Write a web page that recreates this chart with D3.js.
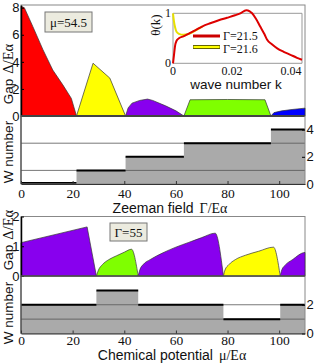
<!DOCTYPE html>
<html>
<head>
<meta charset="utf-8">
<script src="https://cdn.jsdelivr.net/npm/d3@7"></script>
<style>
body { margin: 0; background: #fff; }
svg { display: block; }
.sans { font-family: "Liberation Sans", Arial, sans-serif; }
.serif { font-family: "Liberation Serif", "Times New Roman", serif; }
</style>
</head>
<body>
<svg id="chart" width="316" height="364"></svg>
<script>
// ---- data ----
const fieldTicks = [0, 20, 40, 60, 80, 100];
const gapTicksTop = [0, 2, 4, 6, 8];
const gapTicksBottom = [0, 1, 2];
const wTicksTop = [0, 2, 4];
const wTicksBottom = [0, 2];
const kTicks = [0, 0.02, 0.04];
const thetaTicks = [0, 1];

// top: gap vs Zeeman field (mu = 54.5), [Gamma, gap]
const zeemanRed    = [[0, 8.1], [1.3, 8.0], [4.6, 6.6], [8.5, 4.9], [12.3, 3.4], [16.2, 2.3], [19.5, 1.3], [21.5, 0]];
const zeemanYellow = [[21.5, 0], [27.9, 3.9], [34.4, 2.8], [40.5, 0]];
const zeemanPurple = [[40.5, 0], [41.5, 0.6], [43, 0.95], [46, 1.15], [49, 1.25], [51, 1.15], [56, 0.75], [60, 0.38], [63.1, 0]];
const zeemanGreen  = [[63.1, 0], [65.5, 1.2], [80, 1.22], [94.5, 1.2], [96.8, 0]];
const zeemanBlue   = [[96.8, 0], [98, 0.25], [101, 0.38], [105, 0.48], [110, 0.58], [110, 0]];
const zeemanW      = [[0, 0], [21.5, 1], [40.5, 2], [63.1, 3], [96.8, 4]];

// bottom: gap vs chemical potential (Gamma = 55), [mu, gap]
const chemPurple1 = [[0, 1.12], [25.6, 1.65], [29.2, 0]];
const chemGreen   = [[29.2, 0], [30, 0.2], [31.5, 0.38], [34, 0.55], [37, 0.68], [40, 0.8], [42.8, 0.9], [45.4, 0]];
const chemPurple2 = [[45.4, 0], [46, 0.2], [47.5, 0.4], [50, 0.55], [55, 0.78], [60, 0.97], [65, 1.13], [70, 1.29], [75.2, 1.44], [78.4, 0]];
const chemYellow  = [[78.4, 0], [79, 0.2], [80.5, 0.38], [83, 0.55], [87, 0.7], [92, 0.83], [97.8, 0.97], [100.4, 0]];
const chemPurple3 = [[100.4, 0], [101, 0.2], [102.5, 0.38], [105, 0.54], [110, 0.79], [110, 0]];
const chemW       = [[0, 2], [29.2, 3], [45.4, 2], [78.4, 1], [100.4, 2]];

// inset: theta(k)
const thetaRed = [[0, 0], [0.0003, 0.15], [0.0007, 0.35], [0.0012, 0.45], [0.002, 0.5], [0.0035, 0.54], [0.0055, 0.6],
  [0.0075, 0.66], [0.01, 0.74], [0.0126, 0.8], [0.0155, 0.86], [0.0183, 0.91], [0.021, 0.96], [0.0228, 1.0],
  [0.0248, 1.06], [0.026, 1.04], [0.0268, 1.0], [0.028, 0.9], [0.0296, 0.73], [0.031, 0.58], [0.0319, 0.47],
  [0.0335, 0.38], [0.0353, 0.3], [0.0375, 0.23], [0.0398, 0.17], [0.042, 0.11], [0.0437, 0.07]];
const thetaYellow = [[0, 1.0], [0.0003, 0.85], [0.0007, 0.72], [0.0012, 0.63], [0.002, 0.59], [0.0035, 0.57],
  [0.005, 0.58], [0.0065, 0.62], [0.008, 0.67], [0.01, 0.74]];

const XMAX = 110;
const svg = d3.select('#chart');
const intFmt = d3.format('d');

// ---- scales ----
const x = d3.scaleLinear().domain([0, XMAX]).range([21, 305]);
const yGapTop = d3.scaleLinear().domain([0, 8.2]).range([116, 5]);
const yWTop = d3.scaleLinear().domain([0, 5]).range([184, 116]);
const yGapBot = d3.scaleLinear().domain([0, 2]).range([276, 216.5]);
const yWBot = d3.scaleLinear().domain([0, 4]).range([333.5, 276]);
const xK = d3.scaleLinear().domain([0, 0.0437]).range([173, 302]);
const yTh = d3.scaleLinear().domain([0, 1]).range([63.3, 13.3]);

function gapArea(g, data, yScale, color, curve) {
    const area = d3.area()
        .x(d => x(d[0]))
        .y0(yScale(0))
        .y1(d => yScale(d[1]))
        .curve(curve || d3.curveLinear);
    g.append('path')
        .datum(data)
        .attr('d', area)
        .attr('fill', color)
        .attr('stroke', '#333')
        .attr('stroke-width', 0.7);
}

function wPanel(g, steps, yScale, grid) {
    const pts = steps.concat([[XMAX, steps[steps.length - 1][1]]]);
    g.append('path')
        .datum(pts)
        .attr('d', d3.area().x(d => x(d[0])).y0(yScale(0)).y1(d => yScale(d[1])).curve(d3.curveStepAfter))
        .attr('fill', '#aaaaaa');
    grid.forEach(v => {
        g.append('line')
            .attr('x1', x(0)).attr('x2', x(XMAX))
            .attr('y1', yScale(v)).attr('y2', yScale(v))
            .attr('stroke', '#555').attr('stroke-width', 0.8);
    });
    steps.forEach((s, i) => {
        const end = i < steps.length - 1 ? steps[i + 1][0] : XMAX;
        const yy = yScale(s[1]) - (s[1] === 0 ? 1 : 0);
        g.append('line')
            .attr('x1', x(s[0])).attr('x2', x(end))
            .attr('y1', yy).attr('y2', yy)
            .attr('stroke', '#000').attr('stroke-width', 2);
    });
}

function frame(g, y0, y1) {
    g.append('rect')
        .attr('x', x(0)).attr('y', y0)
        .attr('width', x(XMAX) - x(0)).attr('height', y1 - y0)
        .attr('fill', 'none').attr('stroke', '#888').attr('stroke-width', 1);
}

function xAxis(g, yPos, pad) {
    const ax = g.append('g')
        .attr('transform', `translate(0,${yPos})`)
        .call(d3.axisBottom(x).tickValues(fieldTicks).tickFormat(intFmt)
            .tickSize(-3).tickSizeOuter(0).tickPadding(pad));
    ax.select('.domain').attr('stroke', '#333');
    ax.selectAll('.tick line').attr('stroke', '#333');
    ax.selectAll('text').attr('class', 'serif').attr('font-size', 13.5).attr('fill', '#111');
}

function leftAxis(g, yScale, ticks) {
    const ax = g.append('g')
        .attr('transform', `translate(${x(0)},0)`)
        .call(d3.axisLeft(yScale).tickValues(ticks).tickFormat(intFmt)
            .tickSize(-3).tickSizeOuter(0).tickPadding(1.5));
    ax.select('.domain').attr('stroke', '#000').attr('stroke-width', 1.5);
    ax.selectAll('.tick line').attr('stroke', '#000');
    ax.selectAll('text').attr('class', 'sans').attr('font-size', 13).attr('fill', '#111');
}

function rightAxis(g, yScale, ticks) {
    const ax = g.append('g')
        .attr('transform', `translate(${x(XMAX)},0)`)
        .call(d3.axisRight(yScale).tickValues(ticks).tickFormat(intFmt)
            .tickSize(-3).tickSizeOuter(0).tickPadding(1.5));
    ax.select('.domain').remove();
    ax.selectAll('.tick line').attr('stroke', '#000');
    ax.selectAll('text').attr('class', 'sans').attr('font-size', 13).attr('fill', '#111');
}

function yLabel(g, cx, cy, first, second) {
    const t = g.append('text')
        .attr('transform', `translate(${cx},${cy}) rotate(-90)`)
        .attr('text-anchor', 'middle')
        .attr('font-size', 13.5)
        .attr('fill', '#111');
    t.append('tspan').attr('class', 'sans').text(first);
    if (second) t.append('tspan').attr('class', 'serif').attr('dx', 5).attr('font-size', 14.5).text(second);
}

function infoBox(g, x0, y0, w, h, label) {
    g.append('rect')
        .attr('x', x0).attr('y', y0).attr('width', w).attr('height', h)
        .attr('fill', '#ecebdf').attr('stroke', '#777').attr('stroke-width', 1);
    g.append('text')
        .attr('class', 'serif')
        .attr('x', x0 + w / 2).attr('y', y0 + h / 2 + 4.5)
        .attr('text-anchor', 'middle').attr('font-size', 13).attr('fill', '#111')
        .text(label);
}

// ---- top panel: gap vs Zeeman field ----
const gTop = svg.append('g');
frame(gTop, 5, 116);
gapArea(gTop, zeemanRed, yGapTop, '#ff0000');
gapArea(gTop, zeemanYellow, yGapTop, '#ffff00');
gapArea(gTop, zeemanPurple, yGapTop, '#8800ee');
gapArea(gTop, zeemanGreen, yGapTop, '#7fff00');
gapArea(gTop, zeemanBlue, yGapTop, '#0000ff');
gTop.append('line').attr('x1', x(0)).attr('x2', x(XMAX)).attr('y1', 116).attr('y2', 116)
    .attr('stroke', '#000').attr('stroke-width', 2);
leftAxis(gTop, yGapTop, gapTicksTop);
infoBox(gTop, 45, 12, 47, 20, 'μ=54.5');
yLabel(gTop, 12.5, 74, 'Gap', 'Δ/Eα');

// inset
const inset = svg.append('g');
[[0, 0.0437, 1, 1], [0, 0.0437, 0, 0], [0, 0, 0, 1], [0.0437, 0.0437, 0, 1]].forEach(s => {
    inset.append('line')
        .attr('x1', xK(s[0])).attr('x2', xK(s[1])).attr('y1', yTh(s[2])).attr('y2', yTh(s[3]))
        .attr('stroke', '#999');
});
const thLine = d3.line().x(d => xK(d[0])).y(d => yTh(d[1])).curve(d3.curveMonotoneX);
inset.append('path').datum(thetaYellow).attr('d', thLine)
    .attr('fill', 'none').attr('stroke', '#e8e000').attr('stroke-width', 2);
inset.append('path').datum(thetaRed).attr('d', thLine)
    .attr('fill', 'none').attr('stroke', '#dd0000').attr('stroke-width', 2);
kTicks.forEach(k => {
    inset.append('text').attr('class', 'serif').attr('x', xK(k)).attr('y', 74.5)
        .attr('text-anchor', 'middle').attr('font-size', 12).attr('fill', '#111')
        .text(k === 0 ? '0' : k.toFixed(2));
});
thetaTicks.forEach(v => {
    inset.append('text').attr('class', 'serif').attr('x', xK(0) - 2).attr('y', yTh(v) + 4)
        .attr('text-anchor', 'end').attr('font-size', 12).attr('fill', '#111').text(v);
});
inset.append('text').attr('class', 'sans').attr('x', 236).attr('y', 89)
    .attr('text-anchor', 'middle').attr('font-size', 13.5).attr('fill', '#111').text('wave number k');
inset.append('text').attr('class', 'serif')
    .attr('transform', 'translate(160,25) rotate(-90)')
    .attr('text-anchor', 'middle').attr('font-size', 13).attr('fill', '#111').text('θ(k)');
// legend
inset.append('line').attr('x1', 193).attr('x2', 220).attr('y1', 36).attr('y2', 36)
    .attr('stroke', '#cc0000').attr('stroke-width', 3);
inset.append('line').attr('x1', 193).attr('x2', 220).attr('y1', 47).attr('y2', 47)
    .attr('stroke', '#666600').attr('stroke-width', 4);
inset.append('line').attr('x1', 193.5).attr('x2', 219.5).attr('y1', 47).attr('y2', 47)
    .attr('stroke', '#ffff00').attr('stroke-width', 2);
inset.append('text').attr('class', 'serif').attr('x', 223).attr('y', 39.5)
    .attr('font-size', 12).attr('fill', '#111').text('Γ=21.5');
inset.append('text').attr('class', 'serif').attr('x', 223).attr('y', 52.5)
    .attr('font-size', 12).attr('fill', '#111').text('Γ=21.6');

// top W panel
const wTop = svg.append('g');
wPanel(wTop, zeemanW, yWTop, [1, 3]);
frame(wTop, 116, 184);
wTop.append('line').attr('x1', x(0)).attr('x2', x(0)).attr('y1', 116).attr('y2', 184).attr('stroke', '#333');
rightAxis(wTop, yWTop, wTicksTop);
xAxis(wTop, 184, 4);
yLabel(wTop, 12.5, 152, 'W number');
const zl = wTop.append('text').attr('x', 170).attr('y', 213).attr('text-anchor', 'middle')
    .attr('font-size', 14).attr('fill', '#111');
zl.append('tspan').attr('class', 'sans').text('Zeeman field');
zl.append('tspan').attr('class', 'serif').attr('dx', 6).text('Γ/Eα');

// ---- bottom panel: gap vs chemical potential ----
const gBot = svg.append('g');
frame(gBot, 216.5, 276);
gapArea(gBot, chemPurple1, yGapBot, '#8800ee');
gapArea(gBot, chemGreen, yGapBot, '#7fff00', d3.curveMonotoneX);
gapArea(gBot, chemPurple2, yGapBot, '#8800ee', d3.curveMonotoneX);
gapArea(gBot, chemYellow, yGapBot, '#ffff00', d3.curveMonotoneX);
gapArea(gBot, chemPurple3, yGapBot, '#8800ee', d3.curveMonotoneX);
leftAxis(gBot, yGapBot, gapTicksBottom);
infoBox(gBot, 110, 223, 37, 18, 'Γ=55');
yLabel(gBot, 12.5, 240, 'Gap', 'Δ/Eα');

const wBot = svg.append('g');
wPanel(wBot, chemW, yWBot, [1, 2]);
frame(wBot, 276, 333.5);
wBot.append('line').attr('x1', x(0)).attr('x2', x(XMAX)).attr('y1', 276).attr('y2', 276)
    .attr('stroke', '#333').attr('stroke-width', 1);
wBot.append('line').attr('x1', x(0)).attr('x2', x(0)).attr('y1', 276).attr('y2', 333.5).attr('stroke', '#333');
rightAxis(wBot, yWBot, wTicksBottom);
xAxis(wBot, 333.5, 2);
yLabel(wBot, 12.5, 313, 'W number');
const cl = wBot.append('text').attr('x', 172).attr('y', 360).attr('text-anchor', 'middle')
    .attr('font-size', 14).attr('fill', '#111');
cl.append('tspan').attr('class', 'sans').text('Chemical potential');
cl.append('tspan').attr('class', 'serif').attr('dx', 6).text('μ/Eα');
</script>
</body>
</html>
